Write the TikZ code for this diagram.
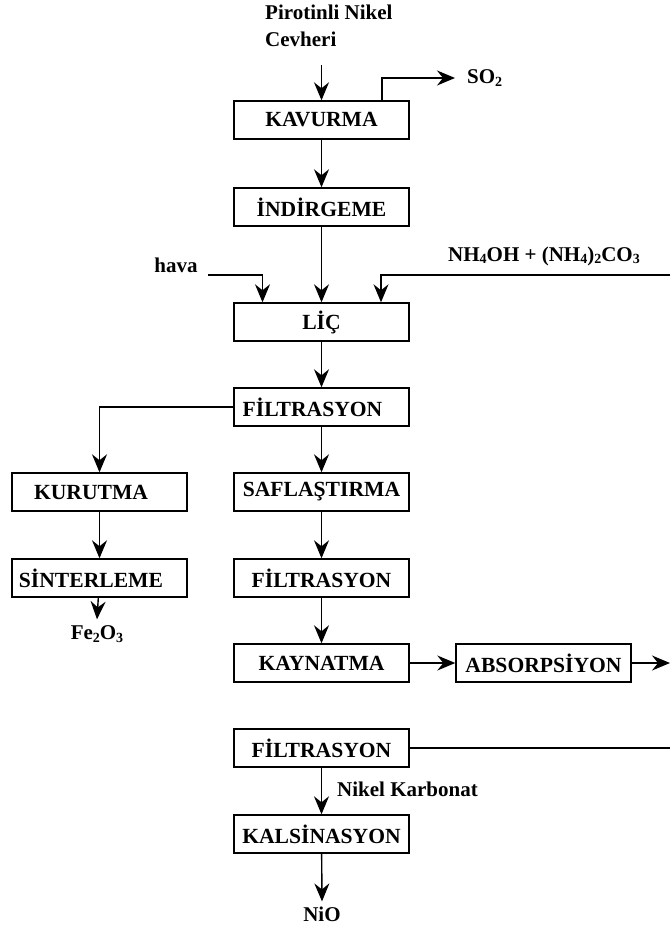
\documentclass[tikz,border=0pt]{standalone}
\usepackage{fontspec}
\setmainfont{Liberation Serif}
\usetikzlibrary{arrows.meta}
\newcommand{\chs}[1]{\raisebox{-0.3ex}{\fontsize{14}{14}\selectfont #1}}
\begin{document}
\begin{tikzpicture}[x=1pt,y=-1pt,
 box/.style={draw, line width=1.4pt, minimum width=175pt, minimum height=38pt, inner sep=0pt, font=\fontsize{21.6}{25}\selectfont\bfseries},
 lbl/.style={inner sep=0pt, font=\fontsize{21}{27}\selectfont\bfseries},
 arr/.style={line width=1.4pt, -{Stealth[length=18pt,width=15pt,inset=6pt]}},
 ln/.style={line width=1.4pt}]
\useasboundingbox (0,0) rectangle (670,933);
% boxes
\node[box] (kav) at (321.5,120) {KAVURMA};
\node[box] (ind) at (321.5,207) {İNDİRGEME};
\node[box] (lic) at (321.5,322) {LİÇ};
\node[box] (f1) at (321.5,407) {\hspace*{-18pt}FİLTRASYON};
\node[box] (saf) at (321.5,492) {SAFLAŞTIRMA};
\node[box] (kur) at (99.5,492) {\hspace*{-17pt}KURUTMA};
\node[box] (sin) at (99.5,578) {\hspace*{-17pt}SİNTERLEME};
\node[box] (f2) at (321.5,578) {FİLTRASYON};
\node[box] (kay) at (321.5,663) {KAYNATMA};
\node[box] (abs) at (543.5,663) {ABSORPSİYON};
\node[box] (f3) at (321.5,748) {FİLTRASYON};
\node[box] (kal) at (321.5,834) {KALSİNASYON};
% labels
\node[lbl, align=left, anchor=north west] (ore) at (265,5) {Pirotinli Nikel\\Cevheri};
\node[lbl, anchor=west] (so2) at (467,78) {SO\chs{2}};
\node[lbl] (hava) at (176,265) {hava};
\node[lbl] (nh) at (544,256) {NH\chs{4}OH + (NH\chs{4})\chs{2}CO\chs{3}};
\node[lbl] (fe) at (97,634) {Fe\chs{2}O\chs{3}};
\node[lbl] (nio) at (322,914) {NiO};
\node[lbl, anchor=west] (nk) at (337,789) {Nikel Karbonat};
% coordinates
\coordinate (oreend) at (321.5,65);
\coordinate (hv) at (208,275);
\coordinate (nhs) at (670,275);
\coordinate (absend) at (670,663);
\coordinate (f3end) at (670,748);
% connectors
\draw[arr] (oreend) -- (kav.north);
\draw[arr] ([xshift=60.5pt]kav.north) |- ([xshift=-12pt]so2.west);
\draw[arr] (kav) -- (ind);
\draw[arr] (ind) -- (lic);
\draw[arr] (hv) -| ([xshift=-59pt]lic.north);
\draw[arr] (nhs) -| ([xshift=59.5pt]lic.north);
\draw[arr] (lic) -- (f1);
\draw[arr] (f1.west) -| (kur.north);
\draw[arr] (f1) -- (saf);
\draw[arr] (kur) -- (sin);
\draw[arr] (saf) -- (f2);
\draw[arr] (f2) -- (kay);
\draw[arr] (kay) -- (abs);
\draw[arr] (abs) -- (absend);
\draw[ln] (f3) -- (f3end);
\draw[arr] (f3) -- (kal);
\draw[arr] (sin) -- ([yshift=6pt]fe.north);
\draw[arr] (kal) -- ([yshift=5pt]nio.north);
\end{tikzpicture}
\end{document}
